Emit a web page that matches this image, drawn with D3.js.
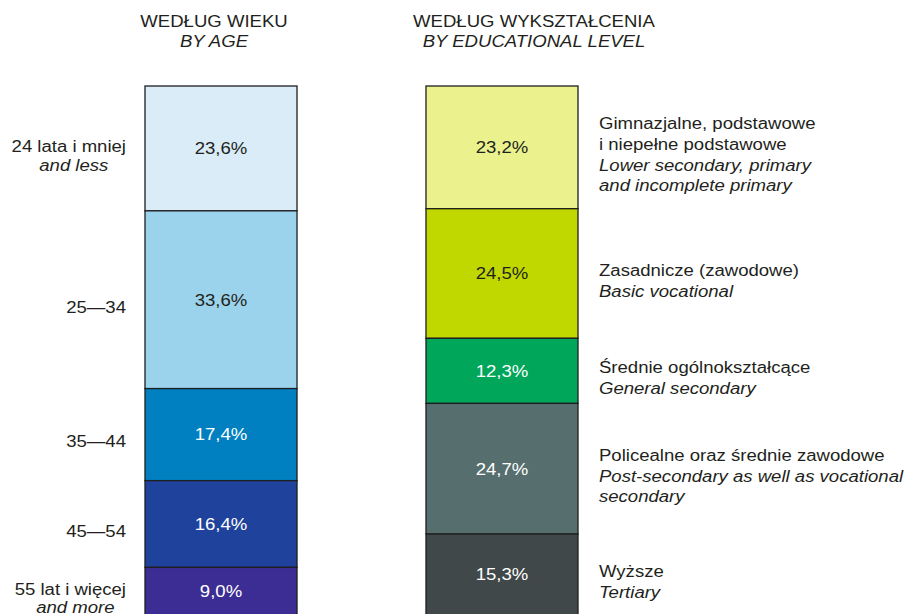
<!DOCTYPE html>
<html>
<head>
<meta charset="utf-8">
<script src="https://cdn.jsdelivr.net/npm/d3@7"></script>
<style>
  html, body { margin: 0; padding: 0; background: #fff; }
  svg { display: block; }
  text { font-family: "Liberation Sans", Arial, sans-serif; font-size: 16px; }
</style>
</head>
<body>
<script>
// ---- data ----
const groups = ["age", "edu"];
const headingsPl = ["WEDŁUG WIEKU", "WEDŁUG WYKSZTAŁCENIA"];
const headingsEn = ["BY AGE", "BY EDUCATIONAL LEVEL"];

const ageLabelsPl = ["24 lata i mniej", "25—34", "35—44", "45—54", "55 lat i więcej"];
const ageLabelsEn = [["and less"], [], [], [], ["and more"]];
const ageValues = [23.6, 33.6, 17.4, 16.4, 9.0];
const ageColors = ["#d9ecf7", "#9bd3ec", "#0080c1", "#1f439c", "#3c2d94"];
const ageTextColors = ["#231f20", "#231f20", "#ffffff", "#ffffff", "#ffffff"];

const eduLabelsPl = [["Gimnazjalne, podstawowe", "i niepełne podstawowe"], ["Zasadnicze (zawodowe)"], ["Średnie ogólnokształcące"], ["Policealne oraz średnie zawodowe"], ["Wyższe"]];
const eduLabelsEn = [["Lower secondary, primary", "and incomplete primary"], ["Basic vocational"], ["General secondary"], ["Post-secondary as well as vocational", "secondary"], ["Tertiary"]];
const eduValues = [23.2, 24.5, 12.3, 24.7, 15.3];
const eduColors = ["#ebf28d", "#c0d800", "#00a65a", "#566f6e", "#40484a"];
const eduTextColors = ["#231f20", "#231f20", "#ffffff", "#ffffff", "#ffffff"];

// ---- layout ----
const W = 907, H = 614;
const SX = 1.16;          // horizontal stretch of the original lettering
const svg = d3.select("body").append("svg").attr("width", W).attr("height", H);

const x = d3.scaleBand().domain(groups).range([145, 578]).paddingInner(0.459).paddingOuter(0);
const y = d3.scaleLinear().domain([0, 100]).range([86, 615]);
const fmt = v => d3.format(".1f")(v).replace(".", ",") + "%";

function addText(g, tx, ty, str, anchor, italic, fill) {
  return g.append("text")
    .attr("transform", `translate(${tx},${ty}) scale(${SX},1)`)
    .attr("text-anchor", anchor)
    .style("font-style", italic ? "italic" : "normal")
    .attr("fill", fill || "#231f20")
    .text(str);
}

function stack(values) {
  let acc = 0;
  return values.map(v => { const s = acc; acc += v; return { v, y0: s, y1: acc }; });
}

// headings
const headCenters = [x("age") + x.bandwidth() / 2 - 7, x("edu") + x.bandwidth() / 2 + 32];
groups.forEach((g, i) => {
  addText(svg, headCenters[i], 27, headingsPl[i], "middle", false);
  addText(svg, headCenters[i], 47, headingsEn[i], "middle", true);
});

function drawBar(key, values, colors, textColors) {
  const segs = stack(values);
  const g = svg.append("g");
  g.selectAll("rect").data(segs).join("rect")
    .attr("x", x(key))
    .attr("width", x.bandwidth())
    .attr("y", d => y(d.y0))
    .attr("height", d => y(d.y1) - y(d.y0))
    .attr("fill", (d, i) => colors[i])
    .attr("stroke", "#1e1e1e")
    .attr("stroke-width", 1.3);
  segs.forEach((d, i) => {
    const cy = (y(d.y0) + y(d.y1)) / 2;
    addText(g, x(key) + x.bandwidth() / 2, cy + 5.8, fmt(d.v), "middle", false, textColors[i]);
  });
  return segs;
}

const ageSegs = drawBar("age", ageValues, ageColors, ageTextColors);
const eduSegs = drawBar("edu", eduValues, eduColors, eduTextColors);

const OFF = 7, CAP = 11.7;

// left labels
const lx = x("age") - 19;
ageSegs.forEach((d, i) => {
  const lines = 1 + ageLabelsEn[i].length;
  const lh = 18.5;
  const cy = (y(d.y0) + y(d.y1)) / 2;
  const b0 = cy + OFF + CAP / 2 - (lines - 1) * lh / 2;
  const t = addText(svg, lx, b0, ageLabelsPl[i], "end", false);
  const w = t.node().getComputedTextLength() * SX;
  ageLabelsEn[i].forEach((s, j) => {
    addText(svg, lx - w / 2 + 5, b0 + (j + 1) * lh, s, "middle", true);
  });
});

// right labels
const rx = x("edu") + x.bandwidth() + 21;
eduSegs.forEach((d, i) => {
  const all = eduLabelsPl[i].map(s => [s, false]).concat(eduLabelsEn[i].map(s => [s, true]));
  const lh = 20.7;
  const cy = (y(d.y0) + y(d.y1)) / 2;
  const b0 = cy + OFF + CAP / 2 - (all.length - 1) * lh / 2;
  all.forEach(([s, it], j) => addText(svg, rx, b0 + j * lh, s, "start", it));
});
</script>
</body>
</html>
